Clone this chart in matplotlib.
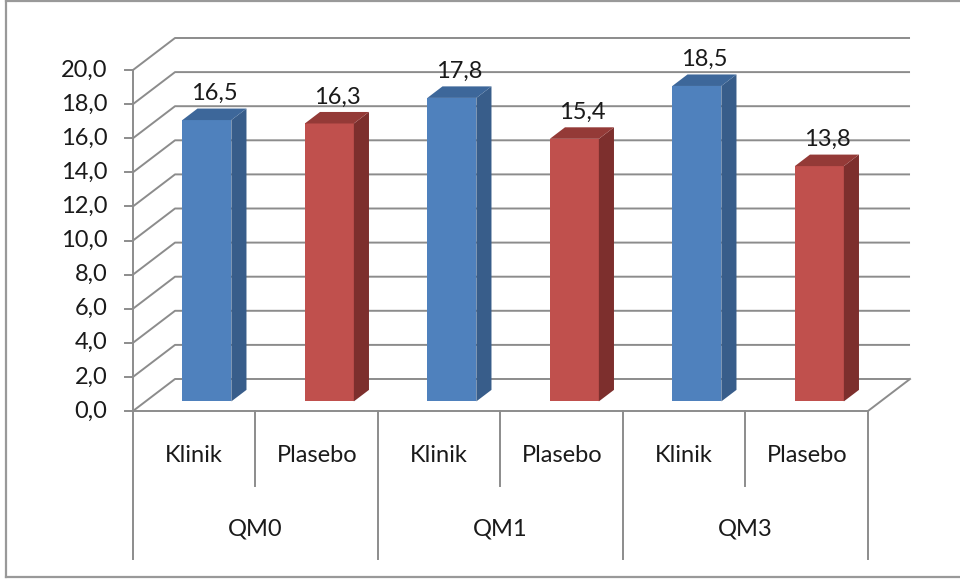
import matplotlib.pyplot as plt
from matplotlib.patches import Polygon
from matplotlib.lines import Line2D
import numpy as np

plt.rcParams['font.family'] = ['Lato', 'DejaVu Sans']

# data
groups = ['QM0', 'QM1', 'QM3']
series = ['Klinik', 'Plasebo']
klinik = [16.5, 17.8, 18.5]
plasebo = [16.3, 15.4, 13.8]
y_ticks = np.arange(0, 21, 2)

colors = {
    'Klinik': ('#4F81BD', '#385D8A', '#3D679A'),
    'Plasebo': ('#C0504D', '#7D2F2D', '#943A37'),
}
grid_c = '#8C8C8C'
txt_c = '#1a1a1a'
fs = 17

# pseudo-3d: depth shift of the back wall in data units
DX, DY = 0.343, 1.877
d0, d1 = 0.3, 0.66      # front/back depth of the bars
bw = 0.4

W, H = 960, 581
fig = plt.figure(figsize=(W / 100, H / 100), dpi=100)
ax = fig.add_axes([0, 0, 1, 1])
# pixel layout: x=0 at px 133, 122.5 px per category; y=0 at px 411, 17.05 px per unit
ax.set_xlim(-133 / 122.5, (W - 133) / 122.5)
ax.set_ylim((411 - H) / 17.05, 411 / 17.05)
ax.axis('off')

n = len(groups) * len(series)
lw = 1.4

# back wall gridlines and left side wall
for v in y_ticks:
    ax.plot([0, DX, n + DX], [v, v + DY, v + DY], color=grid_c, lw=lw, zorder=1,
            solid_capstyle='butt')
    ax.plot([-0.065, 0], [v, v], color=grid_c, lw=lw, zorder=1)
    ax.text(-0.21, v, f'{v:.1f}'.replace('.', ','), ha='right', va='center',
            fontsize=fs, color=txt_c)
# floor
ax.plot([0, n, n + DX], [0, 0, DY], color=grid_c, lw=lw, zorder=1)
# value axis
ax.plot([0, 0], [0, y_ticks[-1]], color=grid_c, lw=lw, zorder=1)

# category axis separators and labels
inner_y = (411 - 486) / 17.05
outer_y = (411 - 559) / 17.05
for g, name in enumerate(groups):
    x0 = g * len(series)
    ax.plot([x0, x0], [0, outer_y], color=grid_c, lw=lw, zorder=1)
    ax.plot([x0 + 1, x0 + 1], [0, inner_y], color=grid_c, lw=lw, zorder=1)
    ax.text(x0 + 1, (411 - 529) / 17.05, name, ha='center', va='center',
            fontsize=fs, color=txt_c)
    for s, sname in enumerate(series):
        ax.text(x0 + s + 0.5, (411 - 456) / 17.05, sname, ha='center', va='center',
                fontsize=fs, color=txt_c)
ax.plot([n, n], [0, outer_y], color=grid_c, lw=lw, zorder=1)

# bars
values = {'Klinik': klinik, 'Plasebo': plasebo}
for g in range(len(groups)):
    for s, sname in enumerate(series):
        v = values[sname][g]
        xc = g * len(series) + s + 0.5
        front, side, top = colors[sname]
        xl = xc - bw / 2 + d0 * DX
        xr = xc + bw / 2 + d0 * DX
        yb = d0 * DY
        ax.bar(xl, v, width=bw, bottom=yb, align='edge', color=front, zorder=3)
        sdx, sdy = (d1 - d0) * DX, (d1 - d0) * DY
        ax.add_patch(Polygon([(xr, yb), (xr + sdx, yb + sdy), (xr + sdx, yb + v + sdy),
                              (xr, yb + v)], closed=True, facecolor=side,
                             edgecolor='none', zorder=3))
        ax.add_patch(Polygon([(xl, yb + v), (xr, yb + v), (xr + sdx, yb + v + sdy),
                              (xl + sdx, yb + v + sdy)], closed=True, facecolor=top,
                             edgecolor='none', zorder=3))
        ax.annotate(f'{v:.1f}'.replace('.', ','),
                    (xc + (d0 + d1) / 2 * DX, v + d1 * DY),
                    xytext=(0, 6), textcoords='offset points', ha='center',
                    va='baseline', fontsize=fs, color=txt_c, zorder=4)

# chart border
for xs, ys in [([6, 6], [1, 577]), ([6, W], [1, 1]), ([6, W], [577, 577])]:
    fig.add_artist(Line2D([x / W for x in xs], [1 - y / H for y in ys],
                          color='#999999', lw=1.6))

fig.savefig('out.png', dpi=100)
